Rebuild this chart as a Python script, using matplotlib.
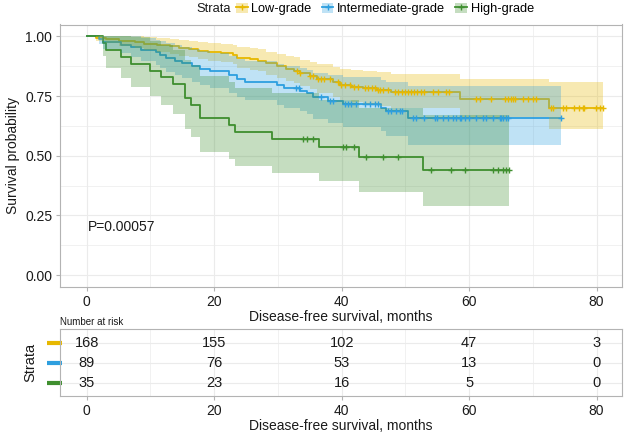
import numpy as np
import matplotlib
matplotlib.use("Agg")
import matplotlib.pyplot as plt
from matplotlib.lines import Line2D
from matplotlib.patches import Patch

plt.rcParams['font.family'] = ['Liberation Sans', 'DejaVu Sans']

# ---- data ----
strata = ['Low-grade', 'Intermediate-grade', 'High-grade']
colors = ['#E7B800', '#2E9FDF', '#3F8F2F']

# Low-grade
low_time = [0, 1.5, 3.0, 5.0, 7.5, 9.0, 11.0, 13.0, 14.5, 16.0, 17.5, 19.0, 21.0, 22.9, 23.5, 25.6,
            26.8, 28.2, 29.8, 31.3, 32.5, 33.4, 35.0, 36.2, 38.6, 39.7, 41.5, 43.3, 45.5, 47.8, 58.5, 72.6]
low_surv = [1.0, .994, .988, .982, .976, .970, .964, .958, .952, .946, .940, .934, .929, .923, .911, .905,
            .899, .887, .875, .863, .857, .845, .833, .821, .808, .796, .789, .782, .775, .768, .736, .702]
low_lower = [1.0, .982, .972, .962, .953, .944, .936, .928, .920, .912, .905, .897, .891, .884, .869, .861,
             .854, .840, .827, .813, .806, .792, .779, .764, .748, .733, .724, .716, .707, .699, .661, .611]
low_upper = [1.0, 1.0, 1.0, 1.0, 1.0, .996, .992, .989, .985, .981, .977, .972, .969, .964, .955, .951,
             .946, .936, .926, .917, .912, .901, .891, .883, .873, .865, .859, .854, .849, .844, .820, .807]
low_end = 81.0
low_cens = [33.0, 33.4, 35.0, 35.5, 36.3, 36.8, 37.3, 38.1, 39.4, 39.9, 40.5, 41.3, 42.0, 42.5, 43.6, 44.1,
            44.7, 45.2, 45.7, 46.0, 46.5, 47.3, 48.3, 48.8, 49.4, 49.9, 50.4, 50.9, 51.3, 51.9, 52.5, 53.0,
            54.3, 55.1, 56.4, 56.9, 61.1, 61.7, 63.5, 65.6, 66.1, 66.6, 66.9, 67.2, 68.4, 69.2, 70.0, 70.5,
            72.9, 73.1, 74.7, 75.2, 76.5, 77.3, 77.9, 78.1, 79.9, 80.5, 81.0]

# Intermediate-grade
mid_time = [0, 1.9, 2.5, 5.4, 7.0, 8.5, 10.9, 11.5, 12.5, 13.8, 15.0, 16.5, 17.7, 19.3, 22.4, 23.5,
            24.8, 29.8, 31.0, 33.4, 34.5, 35.5, 37.8, 40.2, 46.2, 47.0, 50.4]
mid_surv = [1.0, .989, .978, .966, .955, .944, .933, .921, .910, .899, .888, .876, .865, .854, .838, .822,
            .811, .795, .783, .772, .761, .745, .730, .718, .702, .686, .657]
mid_lower = [1.0, .967, .948, .929, .913, .897, .882, .867, .852, .838, .825, .810, .797, .784, .764, .746,
             .733, .714, .700, .688, .674, .655, .637, .622, .602, .582, .545]
mid_upper = [1.0, 1.0, 1.0, 1.0, 1.0, .993, .986, .979, .971, .964, .956, .947, .939, .931, .918, .906,
             .897, .885, .876, .866, .859, .847, .837, .829, .819, .811, .792]
mid_end = 74.5
mid_cens = [32.8, 33.3, 36.8, 38.1, 38.6, 40.5, 41.0, 41.5, 42.3, 43.6, 44.4, 45.2, 45.7, 47.3, 47.8, 48.6,
            49.1, 49.4, 51.2, 51.7, 53.0, 54.6, 54.9, 55.9, 56.7, 57.5, 58.0, 58.5, 58.8, 59.3, 60.0, 61.1,
            62.2, 62.7, 63.7, 64.8, 65.0, 65.3, 65.8, 66.1, 74.5]

# High-grade
high_time = [0, 2.5, 3.0, 5.4, 7.0, 10.0, 11.7, 13.5, 15.4, 16.4, 17.8, 22.4, 23.2, 29.0, 36.5, 42.7, 52.7]
high_surv = [1.0, .971, .943, .914, .886, .857, .829, .800, .743, .714, .657, .629, .600, .571, .538, .496, .441]
high_lower = [1.0, .917, .869, .826, .787, .749, .713, .677, .611, .579, .517, .487, .458, .429, .394, .350, .290]
high_upper = [1.0, 1.0, 1.0, 1.0, .998, .981, .964, .944, .903, .880, .835, .811, .786, .761, .734, .702, .669]
high_end = 66.2
high_cens = [34.0, 34.6, 35.5, 40.2, 40.7, 42.0, 43.8, 46.5, 48.8, 54.1, 57.2, 59.3, 63.7, 64.5, 65.3, 65.8, 66.2]

risk_times = [0, 20, 40, 60, 80]
risk_low = [168, 155, 102, 47, 3]
risk_mid = [89, 76, 53, 13, 0]
risk_high = [35, 23, 16, 5, 0]

pval_text = 'P=0.00057'

groups = [
    (low_time, low_surv, low_lower, low_upper, low_end, low_cens),
    (mid_time, mid_surv, mid_lower, mid_upper, mid_end, mid_cens),
    (high_time, high_surv, high_lower, high_upper, high_end, high_cens),
]
risk = [risk_low, risk_mid, risk_high]

GRID = '#EBEBEB'
BORDER = '#B3B3B3'
TXT = '#1A1A1A'


def extend(t, v, end):
    return np.append(t, end), np.append(v, v[-1])


def style_axes(ax):
    for s in ax.spines.values():
        s.set_color(BORDER)
        s.set_linewidth(0.8)
    ax.tick_params(colors=BORDER, labelcolor=TXT, labelsize=10, length=3, width=0.8, pad=2.5)
    ax.grid(True, which='major', color=GRID, linewidth=0.8)
    ax.grid(True, which='minor', color=GRID, linewidth=0.5)
    ax.set_axisbelow(True)


fig = plt.figure(figsize=(6.24, 4.36), dpi=100)
ax = fig.add_axes([60 / 624, 1 - 287 / 436, 562 / 624, 262.5 / 436])
tab = fig.add_axes([60 / 624, 1 - 396 / 436, 562 / 624, 67 / 436])

# lines first, then ribbons on top, then censor marks
for (t, s, lo, up, end, cens), c in zip(groups, colors):
    tt, ss = extend(t, s, end)
    ax.step(tt, ss, where='post', color=c, linewidth=1.3, zorder=2)
for (t, s, lo, up, end, cens), c in zip(groups, colors):
    tt, ll = extend(t, lo, end)
    _, uu = extend(t, up, end)
    ax.fill_between(tt, ll, uu, step='post', color=c, alpha=0.3, linewidth=0, zorder=3)
for (t, s, lo, up, end, cens), c in zip(groups, colors):
    idx = np.searchsorted(t, cens, side='right') - 1
    ax.plot(cens, np.array(s)[idx], linestyle='none', marker='+', color=c,
            markersize=5, markeredgewidth=1.0, zorder=4)

ax.set_xlim(-4.2, 84)
ax.set_ylim(-0.05, 1.05)
ax.set_xticks([0, 20, 40, 60, 80])
ax.set_xticks([10, 30, 50, 70], minor=True)
ax.set_yticks([0, 0.25, 0.5, 0.75, 1.0])
ax.set_yticks([0.125, 0.375, 0.625, 0.875], minor=True)
ax.set_yticklabels(['0.00', '0.25', '0.50', '0.75', '1.00'])
style_axes(ax)
ax.tick_params(which='minor', length=0)
ax.set_xlabel('Disease-free survival, months', fontsize=10, color=TXT, labelpad=1)
ax.set_ylabel('Survival probability', fontsize=10, color=TXT, labelpad=4)
ax.text(0.2, 0.2, pval_text, fontsize=10, color=TXT, ha='left', va='center')

# risk table
rows = [3, 2, 1]
for r, vals, c in zip(rows, risk, colors):
    for x, v in zip(risk_times, vals):
        tab.text(x, r, str(v), ha='center', va='center', fontsize=10.5, color=TXT)
    tab.plot([-6.3, -3.9], [r, r], color=c, linewidth=3, solid_capstyle='butt', clip_on=False)
tab.set_xlim(-4.2, 84)
tab.set_ylim(0.33, 3.7)
tab.set_xticks([0, 20, 40, 60, 80])
tab.set_xticks([10, 30, 50, 70], minor=True)
tab.set_yticks(rows)
tab.set_yticklabels(['', '', ''])
style_axes(tab)
tab.tick_params(axis='y', length=0)
tab.tick_params(which='minor', length=0)
tab.set_xlabel('Disease-free survival, months', fontsize=10, color=TXT, labelpad=1)
tab.set_ylabel('Strata', fontsize=10.5, color=TXT, labelpad=14)
fig.text(60 / 624, 1 - 322 / 436, 'Number at risk', fontsize=7, color=TXT, ha='left', va='center')

# legend
handles = [(Patch(facecolor=c, alpha=0.3, edgecolor='none'),
            Line2D([], [], color=c, linewidth=1.3, marker='+', markersize=5)) for c in colors]
fig.text(231 / 624, 1 - 9 / 436, 'Strata', fontsize=9.3, color=TXT, ha='right', va='center')
fig.legend(handles, strata, loc='center left', bbox_to_anchor=(236 / 624, 1 - 9 / 436), ncol=3,
           frameon=False, fontsize=9.2, handlelength=0.9, handleheight=0.9, handletextpad=0.3,
           columnspacing=0.8, borderpad=0, borderaxespad=0)

fig.savefig('out.png', dpi=100)
